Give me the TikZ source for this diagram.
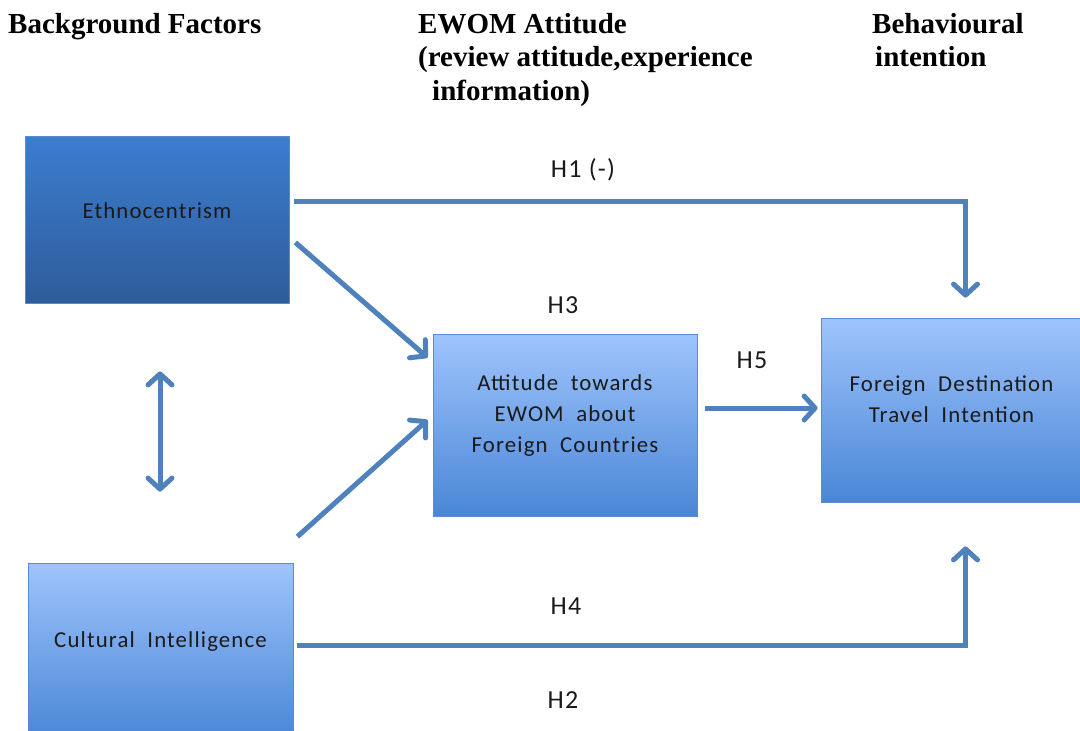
\documentclass[tikz,border=0pt]{standalone}
\usepackage{fontspec}
\setmainfont{Liberation Serif}
\newfontfamily\boxfont[LetterSpace=5]{Carlito}
\usetikzlibrary{arrows.meta,calc,positioning}
\definecolor{linkblue}{HTML}{4F81BD}
\definecolor{boxedge}{HTML}{5A8AD0}
\definecolor{lighttop}{HTML}{9EC4FC}
\definecolor{lightbot}{HTML}{4A86D6}
\definecolor{darktop}{HTML}{3C7DD0}
\definecolor{darkbot}{HTML}{2E5C9A}
\definecolor{textdark}{HTML}{1A1A1A}
\tikzset{
  factor/.style={draw=boxedge, line width=0.8pt, top color=lighttop, bottom color=lightbot,
    inner sep=0pt, align=center, text=textdark, font=\boxfont\fontsize{22.8}{31}\selectfont},
  darkfactor/.style={factor, top color=darktop, bottom color=darkbot},
  link/.style={draw=linkblue, line width=5pt,
    -{Straight Barb[length=11pt,width=24pt,line cap=round,line join=round]}},
  twolink/.style={link, {Straight Barb[length=11pt,width=24pt,line cap=round,line join=round]}-{Straight Barb[length=11pt,width=24pt,line cap=round,line join=round]}},
  hyp/.style={text=textdark, font=\boxfont\fontsize{26}{30}\selectfont},
  header/.style={anchor=base west, inner sep=0pt, font=\bfseries\fontsize{29}{33.5}\selectfont}
}
\begin{document}
\begin{tikzpicture}[x=1pt,y=-1pt]
  \useasboundingbox (0,0) rectangle (1080,731);
  \clip (0,0) rectangle (1080,731);

  % column headings
  \node[header] (hbg) at (8,33) {Background Factors};
  \node[header] (hewoma) at (418,33) {EWOM Attitude};
  \node[header] (hewomb) at (418,66.5) {(review attitude,experience};
  \node[header] (hewomc) at (432,100) {information)};
  \node[header] (hbeha) at (872,33) {Behavioural};
  \node[header] (hbehb) at (875,66.5) {intention};

  % factors
  \node[darkfactor, minimum width=264pt, minimum height=167pt] (ethno) at (157,219.5) {Ethnocentrism\\[-13pt]};
  \node[factor, minimum width=265pt, minimum height=176pt] (cult) at (160.5,651) {Cultural\ \ Intelligence\\[-8pt]};
  \node[factor, minimum width=264pt, minimum height=182pt] (att) at (565,425) {Attitude\ \ towards\\EWOM\ \ about\\Foreign\ \ Countries\\[-8pt]};
  \node[factor, minimum width=261pt, minimum height=184pt] (dest) at (951.5,410) {Foreign\ \ Destination\\Travel\ \ Intention\\[-10pt]};

  % hypotheses
  \node[hyp] (h1) at (583,170) {H1 (-)};
  \node[hyp] (h3) at (563,305) {H3};
  \node[hyp] (h5) at (752,360) {H5};
  \node[hyp] (h4) at (566,606) {H4};
  \node[hyp] (h2) at (563,700) {H2};

  % links
  \draw[link] ($(ethno.east)+(5,-18)$) -| ($(dest.north)+(14,-20)$);
  \draw[link] ($(ethno.east)+(6,23)$) -- ($(att.north west)+(-5,24)$);
  \draw[link] ($(cult.north east)+(4,-26)$) -- ($(att.west)+(-5,-5)$);
  \draw[link] ($(att.east)+(8,-17)$) -- ($(dest.west)+(-3,-2)$);
  \draw[link] ($(cult.east)+(4,-6)$) -| ($(dest.south)+(14,44)$);
  \coordinate (ctop) at ($(ethno.south)+(3,68)$);
  \coordinate (cbot) at ($(cult.north)+(-0.5,-71)$);
  \draw[twolink] (ctop) -- (cbot);
\end{tikzpicture}
\end{document}
